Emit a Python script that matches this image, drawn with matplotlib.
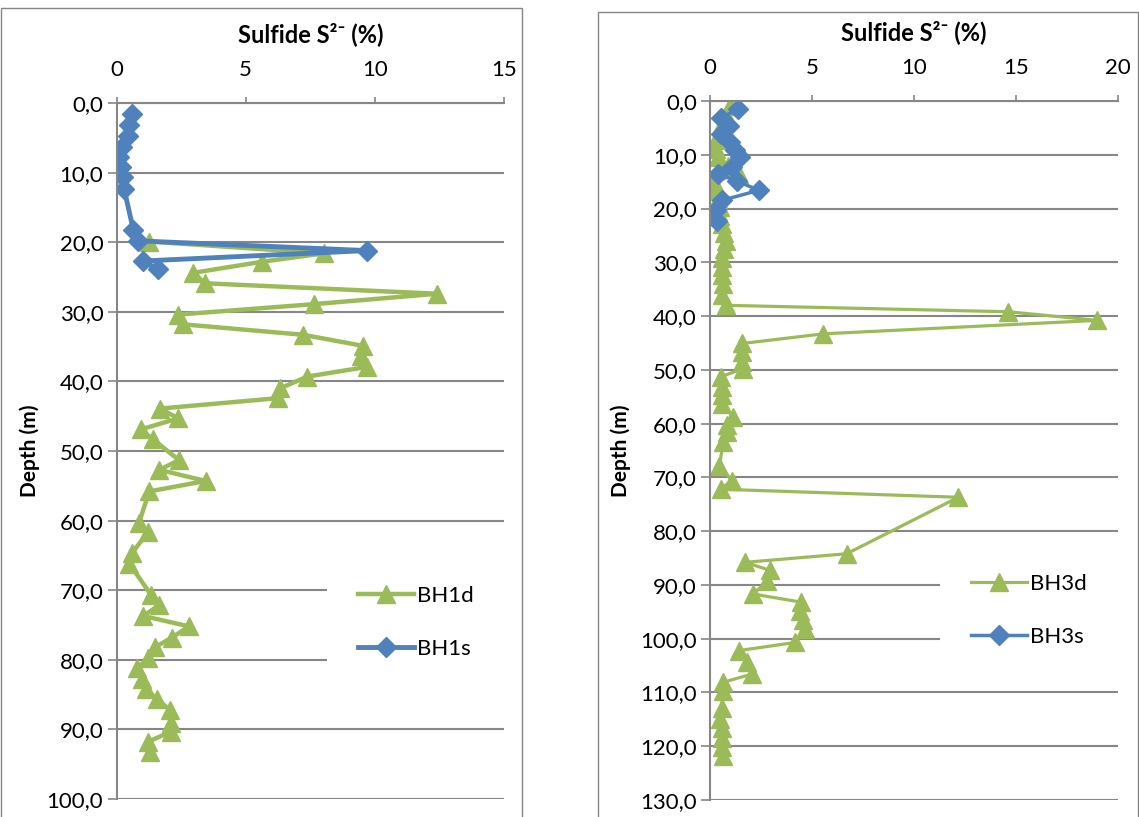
import matplotlib
matplotlib.use('Agg')
import matplotlib.pyplot as plt
from matplotlib.patches import Rectangle
from matplotlib.ticker import FuncFormatter, MultipleLocator

plt.rcParams['font.family'] = ['Lato', 'DejaVu Sans']

GREEN = '#9BBB59'
BLUE = '#4F81BD'
GREY = '#868686'

# BH1 (left panel): depth in m, sulfide in %
bh1s_depth = [1.6, 3.2, 4.7, 6.3, 7.7, 9.2, 10.7, 12.3, 18.2, 19.8, 21.2, 22.7, 23.9]
bh1s_sulf = [0.61, 0.50, 0.46, 0.20, 0.11, 0.16, 0.24, 0.29, 0.65, 0.84, 9.69, 1.01, 1.60]

bh1d_depth = [19.9, 21.6, 22.8, 24.4, 25.9, 27.4, 28.9, 30.4, 31.8, 33.3,
              34.9, 36.4, 37.9, 39.3, 41.0, 42.4, 43.9, 45.3, 46.9, 48.3,
              51.3, 52.7, 54.3, 55.8, 60.3, 61.7, 64.7, 66.2, 70.7, 72.1,
              73.7, 75.2, 76.8, 78.2, 79.8, 81.2, 82.7, 84.2, 85.7, 87.2,
              89.1, 90.3, 91.8, 93.2]
bh1d_sulf = [1.27, 8.03, 5.64, 2.97, 3.43, 12.42, 7.63, 2.37, 2.59, 7.23,
             9.55, 9.47, 9.71, 7.39, 6.33, 6.27, 1.68, 2.39, 0.94, 1.40,
             2.42, 1.66, 3.45, 1.27, 0.87, 1.21, 0.59, 0.50, 1.34, 1.66,
             1.04, 2.81, 2.14, 1.49, 1.21, 0.81, 0.98, 1.14, 1.58, 2.07,
             2.11, 2.11, 1.21, 1.30]

# BH3 (right panel)
bh3s_depth = [1.5, 3.1, 4.6, 6.2, 7.6, 9.1, 10.4, 12.2, 13.5, 14.9, 16.6, 18.5, 20.3, 22.4]
bh3s_sulf = [1.39, 0.54, 0.95, 0.54, 0.98, 1.20, 1.47, 1.06, 0.38, 1.31, 2.40, 0.57, 0.28, 0.33]

bh3d_depth = [1.0, 2.6, 4.2, 5.7, 7.3, 8.9, 10.4, 12.0, 13.5, 15.1,
              16.7, 18.2, 19.8, 21.4, 22.9, 24.5, 26.1, 27.6, 29.2, 30.8,
              32.4, 34.0, 36.1, 38.0, 39.2, 40.8, 43.3, 45.1, 46.7, 48.5,
              49.8, 51.3, 53.1, 54.7, 56.4, 58.8, 60.3, 61.6, 63.4, 67.8,
              70.6, 72.2, 73.7, 84.2, 85.8, 87.3, 89.2, 91.7, 93.2, 94.8,
              96.6, 98.2, 100.7, 102.2, 104.4, 106.6, 108.1, 109.7, 112.8, 115.0,
              116.6, 118.4, 120.2, 121.8]
bh3d_sulf = [1.0, 0.8, 0.6, 0.5, 0.3, 0.3, 0.4, 0.9, 1.4, 0.2,
             0.3, 0.4, 0.5, 0.5, 0.6, 0.7, 0.8, 0.7, 0.6, 0.6,
             0.6, 0.65, 0.57, 0.78, 14.62, 18.99, 5.56, 1.58, 1.55, 1.58,
             1.60, 0.52, 0.57, 0.57, 0.60, 1.14, 0.82, 0.85, 0.65, 0.46,
             1.06, 0.52, 12.17, 6.70, 1.72, 2.94, 2.81, 2.12, 4.46, 4.41,
             4.57, 4.66, 4.17, 1.44, 1.80, 2.04, 0.65, 0.65, 0.57, 0.49,
             0.57, 0.57, 0.57, 0.65]

FS = 16


def depth_fmt(v, pos):
    return ('%.1f' % v).replace('.', ',')


def setup_panel(ax, xmax, ymax):
    ax.set_xlim(0, xmax)
    ax.set_ylim(ymax, 0)
    ax.xaxis.tick_top()
    ax.xaxis.set_major_locator(MultipleLocator(5))
    ax.yaxis.set_major_locator(MultipleLocator(10))
    ax.yaxis.set_major_formatter(FuncFormatter(depth_fmt))
    ax.tick_params(axis='x', direction='out', length=4.5, width=1.2,
                   color=GREY, pad=12, labelsize=FS)
    ax.tick_params(axis='y', direction='out', length=6.5, width=1.2,
                   color=GREY, pad=3, labelsize=FS)
    for s in ['right', 'bottom']:
        ax.spines[s].set_visible(False)
    for s in ['left', 'top']:
        ax.spines[s].set_color(GREY)
        ax.spines[s].set_linewidth(1.5)
    ax.grid(axis='y', color=GREY, linewidth=1.5)
    ax.set_axisbelow(True)
    ax.text(0.5, 1.087, 'Sulfide S\u00b2\u207b (%)', transform=ax.transAxes,
            ha='center', va='baseline', fontsize=17, fontweight='bold')
    ax.set_ylabel('Depth (m)', fontsize=15, fontweight='bold')


fig = plt.figure(figsize=(11.39, 8.17), dpi=100)

# outer chart borders
fig.patches.append(Rectangle((1 / 1139, -0.01), 521 / 1139, 1.0, transform=fig.transFigure,
                             fill=False, edgecolor=GREY, linewidth=1))
fig.patches.append(Rectangle((598 / 1139, -0.01), 540 / 1139, 1.0 - 4 / 817, transform=fig.transFigure,
                             fill=False, edgecolor=GREY, linewidth=1))

ax1 = fig.add_axes([0.1023, 0.0220, 0.3402, 0.8519])
setup_panel(ax1, 15, 100)
ax1.plot(bh1d_sulf, bh1d_depth, color=GREEN, lw=3.2, marker='^', ms=13,
         solid_joinstyle='round', label='BH1d')
ax1.plot(bh1s_sulf, bh1s_depth, color=BLUE, lw=3.5, marker='D', ms=10,
         solid_joinstyle='round', label='BH1s')
ax1.yaxis.set_label_coords(-0.197, 0.5)
leg1 = ax1.legend(loc='upper left', bbox_to_anchor=(0.543, 0.351), borderaxespad=0,
                  frameon=True, facecolor='white', edgecolor='none', framealpha=1,
                  fancybox=False, fontsize=FS, borderpad=1.4, labelspacing=1.5,
                  handlelength=2.5, handletextpad=0.15)

ax2 = fig.add_axes([0.6234, 0.0208, 0.3582, 0.8556])
setup_panel(ax2, 20, 130)
ax2.plot(bh3d_sulf, bh3d_depth, color=GREEN, lw=2.3, marker='^', ms=13,
         solid_joinstyle='round', label='BH3d')
ax2.plot(bh3s_sulf, bh3s_depth, color=BLUE, lw=2.5, marker='D', ms=10,
         solid_joinstyle='round', label='BH3s')
ax2.yaxis.set_label_coords(-0.194, 0.5)
leg2 = ax2.legend(loc='upper left', bbox_to_anchor=(0.564, 0.368), borderaxespad=0,
                  frameon=True, facecolor='white', edgecolor='none', framealpha=1,
                  fancybox=False, fontsize=FS, borderpad=1.4, labelspacing=1.5,
                  handlelength=2.5, handletextpad=0.15)

fig.savefig('out.png', dpi=100)
